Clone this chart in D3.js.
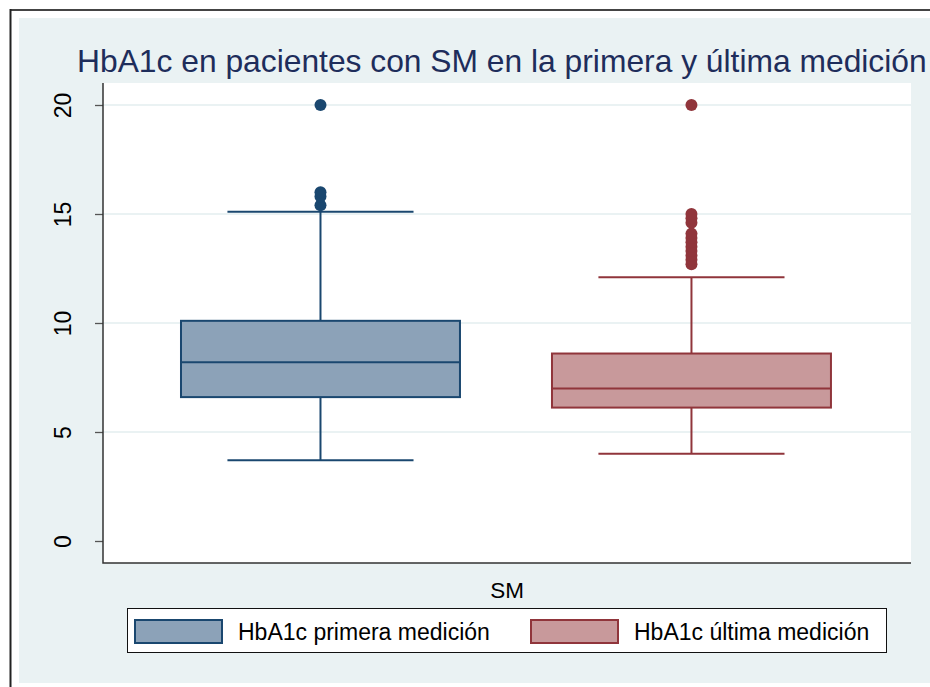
<!DOCTYPE html>
<html><head><meta charset="utf-8">
<script src="https://cdn.jsdelivr.net/npm/d3@7"></script>
<style>body{margin:0;background:#fff}svg{display:block}text{font-family:"Liberation Sans",Arial,sans-serif}</style>
</head><body>
<script>
const title = "HbA1c en pacientes con SM en la primera y última medición";
const groupLabel = "SM";
const seriesNames = ["HbA1c primera medición", "HbA1c última medición"];
const q1 = [6.6, 6.12];
const median = [8.2, 7.0];
const q3 = [10.1, 8.6];
const whiskerLow = [3.7, 4.0];
const whiskerHigh = [15.1, 12.1];
const outliers1 = [15.4, 15.8, 16.0, 20];
const outliers2 = [12.7, 12.9, 13.1, 13.3, 13.5, 13.7, 13.9, 14.1, 14.6, 14.8, 15.0, 20];
const yTicks = [0, 5, 10, 15, 20];
const strokeColors = ["#1a476f", "#90353b"];
const fillColors = ["#8ca2b8", "#c8999b"];

const W = 930, H = 687;
const svg = d3.select("body").append("svg").attr("width", W).attr("height", H);
// outer frame
svg.append("rect").attr("x", 19).attr("y", 18).attr("width", W - 19).attr("height", 683 - 18).attr("fill", "#eaf2f3");
svg.append("line").attr("x1", 10).attr("x2", W).attr("y1", 10).attr("y2", 10).attr("stroke", "#444").attr("stroke-width", 2);
svg.append("line").attr("x1", 10.5).attr("x2", 10.5).attr("y1", 9).attr("y2", H).attr("stroke", "#222").attr("stroke-width", 2);

const pl = 103, pr = 911, pt = 83, pb = 563;
svg.append("rect").attr("x", pl).attr("y", pt).attr("width", pr - pl).attr("height", pb - pt).attr("fill", "#fff");

const y = d3.scaleLinear().domain([0, 20]).range([541, 105]);
const x = d3.scaleBand().domain([0, 1]).range([88.25, 923.7]).paddingInner(0.248).paddingOuter(0.25);

// gridlines
svg.append("g").selectAll("line").data(yTicks.filter(d => d > 0)).join("line")
  .attr("x1", pl).attr("x2", pr).attr("y1", d => y(d)).attr("y2", d => y(d))
  .attr("stroke", "#eaf2f3").attr("stroke-width", 2);

// axes
const yAxis = d3.axisLeft(y).tickValues(yTicks).tickSize(8).tickPadding(0).tickFormat(d3.format("d"));
const ga = svg.append("g").attr("transform", `translate(${pl},0)`).call(yAxis);
ga.select(".domain").remove();
ga.selectAll(".tick line").attr("stroke", "#555").attr("stroke-width", 1.3);
ga.selectAll(".tick text").attr("transform", "translate(-40,0) rotate(-90)").attr("x", 0).attr("dy", "0.35em")
  .attr("text-anchor", "middle").attr("font-size", 23).attr("fill", "#000");
svg.append("path").attr("d", `M${pl},${pt}V${pb}H${pr}`).attr("fill", "none").attr("stroke", "#333").attr("stroke-width", 1.5);

// boxes
const outs = [outliers1, outliers2];
[0, 1].forEach(i => {
  const g = svg.append("g");
  const bx = x(i), bw = x.bandwidth(), cx = bx + bw / 2;
  const sc = strokeColors[i];
  g.append("line").attr("x1", cx).attr("x2", cx).attr("y1", y(whiskerLow[i])).attr("y2", y(q1[i])).attr("stroke", sc).attr("stroke-width", 2);
  g.append("line").attr("x1", cx).attr("x2", cx).attr("y1", y(q3[i])).attr("y2", y(whiskerHigh[i])).attr("stroke", sc).attr("stroke-width", 2);
  const capW = bw * 0.667;
  [whiskerLow[i], whiskerHigh[i]].forEach(v => g.append("line").attr("x1", cx - capW / 2).attr("x2", cx + capW / 2)
    .attr("y1", y(v)).attr("y2", y(v)).attr("stroke", sc).attr("stroke-width", 2));
  g.append("rect").attr("x", bx).attr("width", bw).attr("y", y(q3[i])).attr("height", y(q1[i]) - y(q3[i]))
    .attr("fill", fillColors[i]).attr("stroke", sc).attr("stroke-width", 2);
  g.append("line").attr("x1", bx).attr("x2", bx + bw).attr("y1", y(median[i])).attr("y2", y(median[i])).attr("stroke", sc).attr("stroke-width", 2);
  g.selectAll("circle").data(outs[i]).join("circle").attr("cx", cx).attr("cy", d => y(d)).attr("r", 6).attr("fill", sc);
});

// x label
svg.append("text").attr("x", (pl + pr) / 2).attr("y", 598).attr("text-anchor", "middle").attr("font-size", 22.5).text(groupLabel);

// title (fit inside the page width)
const tt = svg.append("text").attr("x", 77).attr("y", 72).attr("font-size", 32.5).attr("fill", "#1e2d5b").text(title);
const tw = tt.node().getComputedTextLength();
if (77 + tw > W - 3) tt.attr("font-size", 32.5 * (W - 3 - 77) / tw);

// legend
svg.append("rect").attr("x", 127.5).attr("y", 608.5).attr("width", 759).attr("height", 44).attr("fill", "#fff").attr("stroke", "#111").attr("stroke-width", 1);
const lx = [135, 531];
seriesNames.forEach((s, i) => {
  svg.append("rect").attr("x", lx[i]).attr("y", 620).attr("width", 87).attr("height", 23)
    .attr("fill", fillColors[i]).attr("stroke", strokeColors[i]).attr("stroke-width", 2);
  svg.append("text").attr("x", lx[i] + 103).attr("y", 640).attr("font-size", 23).text(s);
});
</script>
</body></html>
